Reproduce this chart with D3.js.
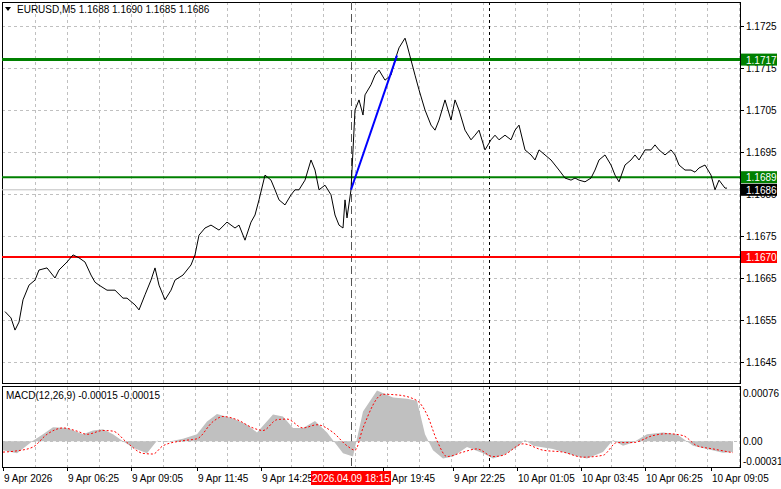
<!DOCTYPE html>
<html><head><meta charset="utf-8">
<script src="https://cdn.jsdelivr.net/npm/d3@7"></script>
<style>body{margin:0;background:#fff}svg{font-family:"Liberation Sans",Arial,sans-serif;font-size:10px}</style>
</head><body><div id="chart"></div>
<script>
// price samples: bar index and close
const bars = [1,4,6,8,10,13,16,18,22,26,28,32,35,38,41,44,46,48,52,56,60,62,66,68,71,74,76,78,81,84,86,90,94,96,98,101,104,108,112,116,118,121,124,126,128,131,134,136,138,141,144,146,148,151,154,156,158,161,164,166,168,170,171,172,174,175,176,178,180,181,184,186,188,191,194,196,198,201,202,204,206,208,211,214,216,218,221,224,226,228,231,234,236,238,241,244,246,248,251,254,256,258,261,264,266,268,271,274,276,278,281,284,286,288,291,294,296,298,301,304,306,308,311,314,316,318,321,324,326,328,331,334,336,338,341,344,346,348,351,354,356,358,361,362];
const close = [1.1657,1.16555,1.16526,1.16545,1.16598,1.16633,1.16645,1.16669,1.16674,1.1665,1.16669,1.16688,1.16705,1.16698,1.16688,1.16657,1.1664,1.16633,1.16621,1.16621,1.16602,1.16602,1.16586,1.16574,1.1661,1.16645,1.16674,1.16633,1.16598,1.16621,1.16645,1.16657,1.16681,1.16705,1.16752,1.16769,1.16776,1.16764,1.16783,1.16769,1.16776,1.1674,1.16783,1.168,1.16836,1.16895,1.16883,1.1686,1.16836,1.16824,1.16848,1.1686,1.1686,1.16883,1.16931,1.16907,1.1686,1.16871,1.16848,1.168,1.16776,1.16769,1.16836,1.16793,1.1686,1.16955,1.1705,1.17074,1.17038,1.17086,1.1711,1.17133,1.17145,1.17121,1.17133,1.17169,1.17198,1.17221,1.17205,1.17169,1.17133,1.17098,1.1705,1.17014,1.17002,1.17026,1.17074,1.17026,1.17074,1.1705,1.17002,1.16979,1.1699,1.17002,1.16955,1.16979,1.1699,1.16979,1.1699,1.16979,1.17002,1.17014,1.16955,1.16943,1.16931,1.16955,1.16943,1.16931,1.16919,1.16907,1.16888,1.16883,1.16888,1.16883,1.16879,1.16888,1.16907,1.16931,1.16943,1.16919,1.16895,1.16879,1.16919,1.16931,1.16943,1.16931,1.16955,1.16955,1.16967,1.16955,1.16943,1.16955,1.16943,1.16919,1.16907,1.16907,1.16902,1.16912,1.16919,1.16895,1.1686,1.16883,1.16864,1.16864];

// MACD samples (values x 1e-5)
const macdBars = [0,7,15,20,25,32,40,45,50,55,60,65,72,77,82,90,97,102,107,115,122,127,135,140,145,150,156,162,170,175,180,187,195,202,207,211,215,220,225,232,240,245,250,257,261,265,275,285,292,300,305,310,315,322,330,337,345,352,360,365];
const macdHist = [-14,-19,1,11,22,21,11,17,19,11,0,-10,-19,1,-1,4,11,31,43,36,26,14,42,39,21,21,32,14,-19,-24,47,80,69,67,64,11,-14,-27,-24,-9,-19,-27,-22,-9,2,-7,-12,-22,-27,-17,2,-7,-2,11,14,11,-7,-12,-18,-17];
const sigBars = [0,7,15,22,30,37,42,50,55,62,70,75,80,90,97,105,110,117,125,130,137,142,150,157,165,172,176,180,190,197,207,212,217,222,230,237,245,250,260,270,280,290,300,307,315,325,332,340,347,355,365];
const sigVals = [-17,-15,-9,11,21,16,11,17,16,-2,-19,-20,-7,1,4,31,39,34,21,17,34,35,21,26,14,-7,-14,21,74,73,64,42,1,-24,-17,-12,-24,-22,-4,-14,-17,-25,-22,-2,-2,9,12,9,-7,-12,-18];

const priceTicks = [1.1725,1.1715,1.1705,1.1695,1.1685,1.1675,1.1665,1.1655,1.1645];
const timeBars = [0,32,64,97,129,190,225,257,289,321,354];
const timeLabels = ["9 Apr 2026","9 Apr 06:25","9 Apr 09:05","9 Apr 11:45","9 Apr 14:25","9 Apr 19:45","9 Apr 22:25","10 Apr 01:05","10 Apr 03:45","10 Apr 06:25","10 Apr 09:05"];
const levels = [{v:1.1717,c:"#008000",w:3},{v:1.1689,c:"#008000",w:2},{v:1.1670,c:"#ff0000",w:2}];
const lastPrice = 1.1686;
const markBar = 174, markLabel = "2026.04.09 18:15", cursorBar = 243;
const trend = [[174,1.1686],[197,1.1718]];

const W = 781, H = 489, L = 2, R = 740;
const svg = d3.select("#chart").append("svg").attr("width", W).attr("height", H);
const x = d3.scaleLinear().domain([0, 369]).range([3, 741]);
const y = d3.scaleLinear().domain([1.1645, 1.1725]).range([362, 26]);
const ym = d3.scaleLinear().domain([-31, 76]).range([461, 393]);

const grid = svg.append("g").attr("stroke", "#c0c0c0").attr("stroke-dasharray", "3,3");
// vertical grid
d3.range(16, 369, 16).forEach(b => {
  grid.append("line").attr("x1", x(b)+0.5).attr("x2", x(b)+0.5).attr("y1", 2).attr("y2", 383);
  grid.append("line").attr("x1", x(b)+0.5).attr("x2", x(b)+0.5).attr("y1", 387).attr("y2", 467);
});
priceTicks.forEach(p => grid.append("line").attr("x1", L).attr("x2", R).attr("y1", Math.round(y(p))+0.5).attr("y2", Math.round(y(p))+0.5));
grid.append("line").attr("x1", L).attr("x2", R).attr("y1", Math.round(ym(0))+0.5).attr("y2", Math.round(ym(0))+0.5);

// frames
svg.append("rect").attr("x", L+0.5).attr("y", 2.5).attr("width", R-L).attr("height", 381).attr("fill", "none").attr("stroke", "#000");
svg.append("rect").attr("x", L+0.5).attr("y", 386.5).attr("width", R-L).attr("height", 81).attr("fill", "none").attr("stroke", "#000");

// vertical markers
svg.append("line").attr("x1", x(markBar)+0.5).attr("x2", x(markBar)+0.5).attr("y1", 2).attr("y2", 467).attr("stroke", "#555").attr("stroke-dasharray", "8,4");
svg.append("line").attr("x1", x(cursorBar)+0.5).attr("x2", x(cursorBar)+0.5).attr("y1", 2).attr("y2", 467).attr("stroke", "#000").attr("stroke-dasharray", "3,3");

// current price line
svg.append("line").attr("x1", L).attr("x2", R).attr("y1", y(lastPrice)).attr("y2", y(lastPrice)).attr("stroke", "#c0c0c0");
levels.forEach(l => svg.append("line").attr("x1", L).attr("x2", R).attr("y1", y(l.v)).attr("y2", y(l.v)).attr("stroke", l.c).attr("stroke-width", l.w));

// price line
const pts = bars.map((b, i) => [b, close[i]]);
svg.append("path").datum(pts).attr("fill", "none").attr("stroke", "#000").attr("stroke-width", 1)
  .attr("d", d3.line().x(d => x(d[0])).y(d => y(d[1])));
svg.append("path").datum(trend).attr("fill", "none").attr("stroke", "#0000ff").attr("stroke-width", 2)
  .attr("d", d3.line().x(d => x(d[0])).y(d => y(d[1])));

// MACD
const hist = macdBars.map((b, i) => [b, macdHist[i]]);
svg.append("path").datum(hist).attr("fill", "#c0c0c0")
  .attr("d", d3.area().x(d => x(d[0])).y0(ym(0)).y1(d => ym(d[1])));
const sig = sigBars.map((b, i) => [b, sigVals[i]]);
svg.append("path").datum(sig).attr("fill", "none").attr("stroke", "#ff0000").attr("stroke-dasharray", "2,2")
  .attr("d", d3.line().curve(d3.curveMonotoneX).x(d => x(d[0])).y(d => ym(d[1])));
svg.append("text").attr("x", 6).attr("y", 399).attr("fill", "#000").text("MACD(12,26,9) -0.00015 -0.00015");

// title
svg.append("path").attr("d", "M5,7 L11,7 L8,11 Z").attr("fill", "#000");
svg.append("text").attr("x", 17).attr("y", 13).text("EURUSD,M5  1.1688 1.1690 1.1685 1.1686");

// right price axis
const ax = svg.append("g");
priceTicks.forEach(p => {
  ax.append("line").attr("x1", R).attr("x2", R+4).attr("y1", Math.round(y(p))+0.5).attr("y2", Math.round(y(p))+0.5).attr("stroke", "#000");
  ax.append("text").attr("x", 746).attr("y", y(p)+4).text(p.toFixed(4));
});
[{v:1.1717,bg:"#008000"},{v:1.1689,bg:"#008000"},{v:lastPrice,bg:"#000"},{v:1.1670,bg:"#ff0000"}].forEach(t => {
  ax.append("rect").attr("x", 741).attr("y", y(t.v)-6).attr("width", 36).attr("height", 12).attr("fill", t.bg);
  ax.append("text").attr("x", 746).attr("y", y(t.v)+4).attr("fill", "#fff").text(t.v.toFixed(4));
});
[[76,"0.00076"],[0,"0.00"],[-31,"-0.00031"]].forEach(d => {
  ax.append("text").attr("x", 743).attr("y", ym(d[0])+4).text(d[1]);
});

// time axis
timeBars.forEach((b, i) => {
  svg.append("line").attr("x1", x(b)+0.5).attr("x2", x(b)+0.5).attr("y1", 467).attr("y2", 471).attr("stroke", "#000");
  svg.append("text").attr("x", x(b)+1).attr("y", 482).text(timeLabels[i]);
});
svg.append("rect").attr("x", x(markBar)-40).attr("y", 471).attr("width", 80).attr("height", 14).attr("fill", "#ff0000");
svg.append("text").attr("x", x(markBar)).attr("y", 482).attr("text-anchor", "middle").attr("fill", "#fff").text(markLabel);
</script></body></html>
